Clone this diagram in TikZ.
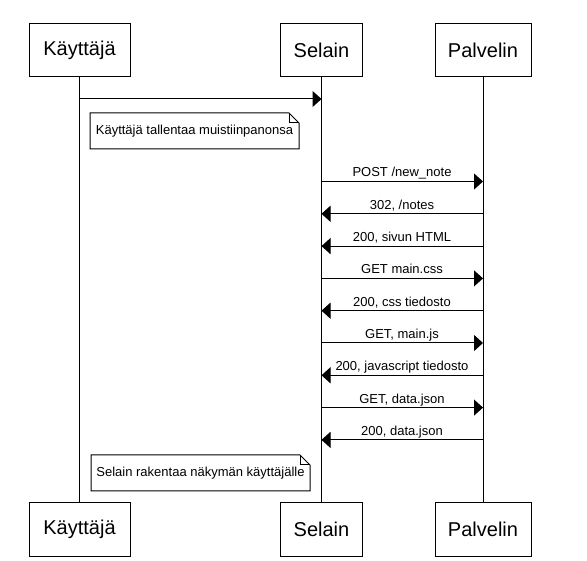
\documentclass[tikz,border=0pt]{standalone}
\usepackage{fontspec}
\setmainfont{Liberation Sans}
\usetikzlibrary{arrows.meta}
\begin{document}
\begin{tikzpicture}[x=1pt,y=-1pt,line width=1pt,
  actor/.style={draw, minimum height=53pt, inner sep=0pt, font=\fontsize{20}{24}\selectfont},
  msg/.style={-{Triangle[length=9pt,width=16pt]}},
  lbl/.style={anchor=base, inner sep=0pt, font=\fontsize{13}{15}\selectfont},
  notetext/.style={inner sep=0pt, font=\fontsize{13}{15}\selectfont},
  notebox/.style={draw, line width=1pt}]
\useasboundingbox (0,0) rectangle (587,561);
% actors
\node[actor, minimum width=101pt] (k1) at (79.5,50.5) {Käyttäjä};
\node[actor, minimum width=82pt]  (s1) at (321.5,50.5) {Selain};
\node[actor, minimum width=96pt]  (p1) at (483,50.5) {Palvelin};
\node[actor, minimum width=101pt] (k2) at (79.5,529.5) {Käyttäjä};
\node[actor, minimum width=82pt]  (s2) at (321.5,529.5) {Selain};
\node[actor, minimum width=96pt]  (p2) at (483,529.5) {Palvelin};
% lifelines
\draw (k1.south) -- (k2.north);
\draw (s1.south) -- (s2.north);
\draw (p1.south) -- (p2.north);
% first arrow
\draw[msg] (k1 |- 0,99) -- (s1 |- 0,99);
% note 1
\draw[notebox] (90,113) -- (289,113) -- (299,123) -- (299,149) -- (90,149) -- cycle;
\draw[notebox] (289,113) -- (289,123) -- (299,123);
\node[notetext] (n1) at (194.5,131) {Käyttäjä tallentaa muistiinpanonsa};
% messages
\draw[msg] (s1 |- 0,181.5) -- (p1 |- 0,181.5);
\node[lbl] (m1) at (402,177) {POST /new\_note};
\draw[msg] (p1 |- 0,213.8) -- (s1 |- 0,213.8);
\node[lbl] (m2) at (402,209.3) {302, /notes};
\draw[msg] (p1 |- 0,246.1) -- (s1 |- 0,246.1);
\node[lbl] (m3) at (402,241.6) {200, sivun HTML};
\draw[msg] (s1 |- 0,278.4) -- (p1 |- 0,278.4);
\node[lbl] (m4) at (402,273.9) {GET main.css};
\draw[msg] (p1 |- 0,310.7) -- (s1 |- 0,310.7);
\node[lbl] (m5) at (402,306.2) {200, css tiedosto};
\draw[msg] (s1 |- 0,343) -- (p1 |- 0,343);
\node[lbl] (m6) at (402,338.5) {GET, main.js};
\draw[msg] (p1 |- 0,375.3) -- (s1 |- 0,375.3);
\node[lbl] (m7) at (402,370.8) {200, javascript tiedosto};
\draw[msg] (s1 |- 0,407.6) -- (p1 |- 0,407.6);
\node[lbl] (m8) at (402,403.1) {GET, data.json};
\draw[msg] (p1 |- 0,439.9) -- (s1 |- 0,439.9);
\node[lbl] (m9) at (402,435.4) {200, data.json};
% note 2
\draw[notebox] (91,455) -- (300,455) -- (310,465) -- (310,491) -- (91,491) -- cycle;
\draw[notebox] (300,455) -- (300,465) -- (310,465);
\node[notetext] (n2) at (200.5,473) {Selain rakentaa näkymän käyttäjälle};
\end{tikzpicture}
\end{document}
